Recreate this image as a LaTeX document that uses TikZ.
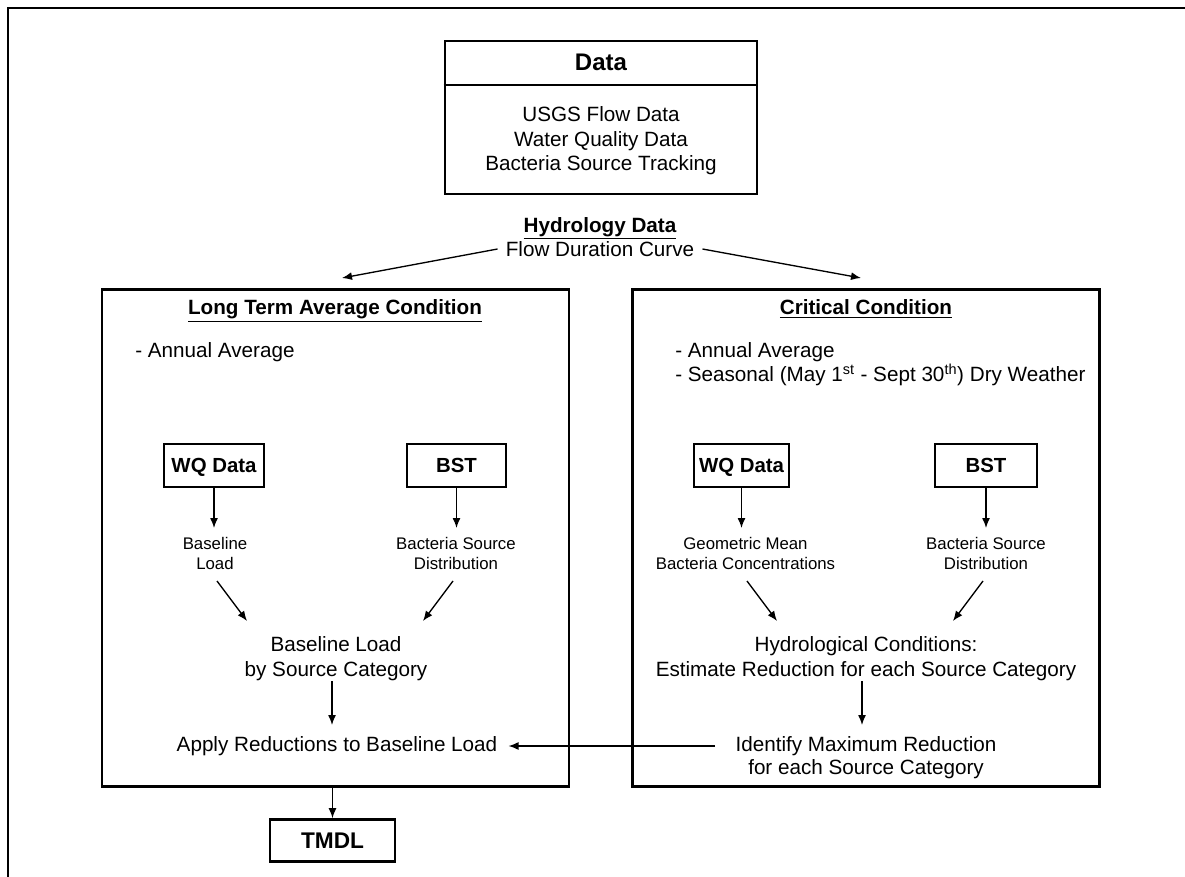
\documentclass[tikz,border=0pt]{standalone}
\usepackage{fontspec}
\setmainfont{Liberation Sans}
\usetikzlibrary{arrows.meta}
\begin{document}
\begin{tikzpicture}[x=0.75pt,y=-0.75pt,
  body/.style={font=\fontsize{15.5}{18.4}\selectfont, align=center, inner sep=0pt},
  small/.style={font=\fontsize{12.6}{15}\selectfont, align=center, inner sep=0pt},
  heading/.style={font=\bfseries\fontsize{15.5}{18.4}\selectfont, inner sep=0pt, anchor=base},
  bigbox/.style={draw, line width=2.2pt, inner sep=0pt},
  smallbox/.style={draw, line width=1.6pt, inner sep=0pt, font=\bfseries\fontsize{15.3}{18}\selectfont, minimum height=32.25pt, text height=11pt, text depth=0pt},
  arr/.style={-{Latex[length=7.5pt,width=6pt]}, line width=1pt},
]
\useasboundingbox (0,0) rectangle (1185,877);
% outer frame
\draw[line width=1.5pt] (8,877) -- (8,8) -- (1185,8);

% Data box
\node[bigbox, minimum width=234pt, minimum height=114.75pt] (data) at (601,117.5) {};
\draw[line width=0.8pt] (data.west |- 0,85) -- (data.east |- 0,85);
\node[font=\bfseries\fontsize{18}{21}\selectfont, inner sep=0pt, anchor=base] (datatitle) at (601,70.5) {Data};
\node[body, font=\fontsize{15.5}{18.4}\selectfont] (databody) at (601,141) {USGS Flow Data\\Water Quality Data\\Bacteria Source Tracking};

% Hydrology
\node[heading] (hydro) at (600,232.5) {\underline{Hydrology Data}};
\node[body, inner xsep=6pt] (flow) at (600,249) {Flow Duration Curve};
\coordinate (ltip) at (342,278);
\coordinate (rtip) at (861,278);
\draw[arr] (flow.west) -- (ltip);
\draw[arr] (flow.east) -- (rtip);

% Left box
\node[bigbox, minimum width=350.25pt, minimum height=372.75pt] (lbox) at (335.5,538) {};
\node[heading] (ltitle) at (335,315) {\underline{Long Term Average Condition}};
\node[body, anchor=base west] (lann) at (135,357.5) {- Annual Average};
\node[smallbox, minimum width=75pt] (lwq) at (214,465.5) {WQ Data};
\node[smallbox, minimum width=74.25pt] (lbst) at (456.5,465.5) {BST};
\draw[arr] (lwq.south) -- (lwq.south |- 0,528);
\draw[arr] (lbst.south) -- (lbst.south |- 0,528);
\node[small] (lbase) at (215,553) {Baseline\\Load};
\node[small] (lbsd) at (456,553) {Bacteria Source\\Distribution};
\coordinate (la1) at (217,581); \coordinate (la2) at (247,621);
\coordinate (lb1) at (453,581); \coordinate (lb2) at (423,621);
\draw[arr] (la1) -- (la2);
\draw[arr] (lb1) -- (lb2);
\node[body, font=\fontsize{15.5}{18.75}\selectfont] (lmerge) at (336,659) {Baseline Load\\by Source Category};
\draw[arr] (lmerge.south -| 332,0) -- (332,725);
\node[body] (apply) at (337,746) {Apply Reductions to Baseline Load};

% TMDL
\node[smallbox, line width=2pt, font=\bfseries\fontsize{17}{20}\selectfont, text height=12.2pt, minimum width=93.75pt, minimum height=31.5pt] (tmdl) at (332.5,840.5) {TMDL};
\draw[arr] (tmdl.north |- lbox.south) -- (tmdl.north);

% Right box
\node[bigbox, minimum width=350.25pt, minimum height=372.75pt] (rbox) at (866,538) {};
\node[heading] (rtitle) at (866,315) {\underline{Critical Condition}};
\node[body, anchor=base west] (rann1) at (675,357.5) {- Annual Average};
\node[body, anchor=base west] (rann2) at (675,381.5) {- Seasonal (May 1\textsuperscript{st} - Sept 30\textsuperscript{th}) Dry Weather};
\node[smallbox, minimum width=71.25pt] (rwq) at (741.5,465.5) {WQ Data};
\node[smallbox, minimum width=76.5pt] (rbst) at (986,465.5) {BST};
\draw[arr] (rwq.south) -- (rwq.south |- 0,528);
\draw[arr] (rbst.south) -- (rbst.south |- 0,528);
\node[small] (rgeo) at (745.5,553) {Geometric Mean\\Bacteria Concentrations};
\node[small] (rbsd) at (986,553) {Bacteria Source\\Distribution};
\coordinate (ra1) at (747,581); \coordinate (ra2) at (777,621);
\coordinate (rb1) at (983,581); \coordinate (rb2) at (953,621);
\draw[arr] (ra1) -- (ra2);
\draw[arr] (rb1) -- (rb2);
\node[body, font=\fontsize{15.5}{18.75}\selectfont] (rhyd) at (866,659) {Hydrological Conditions:\\Estimate Reduction for each Source Category};
\draw[arr] (rhyd.south -| 862,0) -- (862,725);
\node[body, font=\fontsize{15.5}{17.25}\selectfont] (ident) at (866,757.5) {Identify Maximum Reduction\\for each Source Category};
\coordinate (hstart) at (715,0);
\draw[arr] (hstart |- apply.east) -- ([xshift=8.25pt]apply.east);
\end{tikzpicture}
\end{document}
